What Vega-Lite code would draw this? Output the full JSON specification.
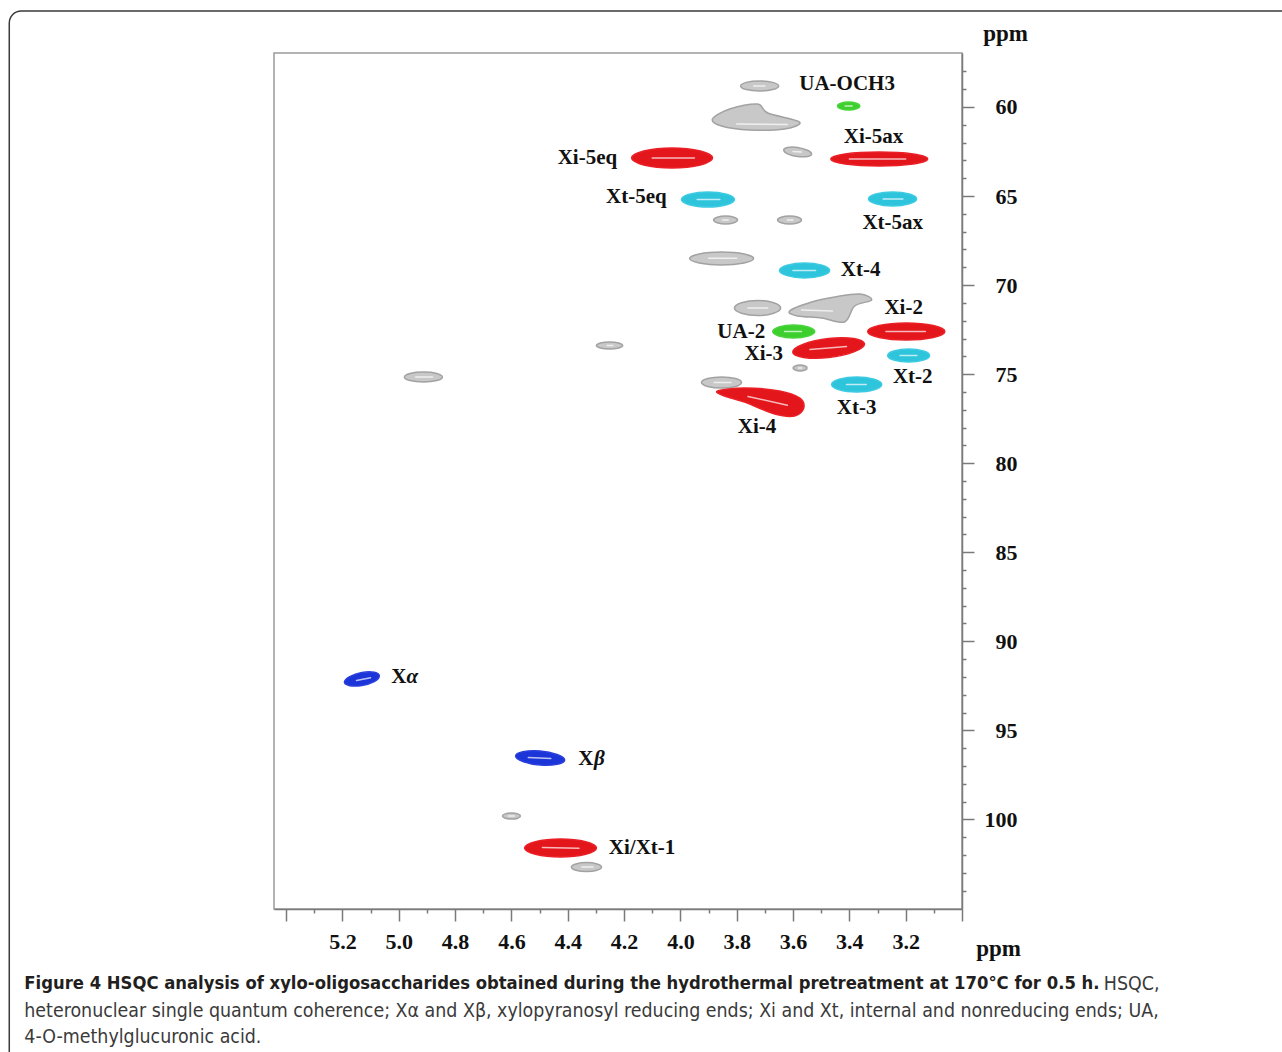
{
  "$schema": "https://vega.github.io/schema/vega-lite/v6.json",
  "width": 688,
  "height": 856,
  "autosize": {"type": "none"},
  "padding": {"left": 274, "top": 53, "right": 320, "bottom": 143},
  "background": "white",
  "config": {"view": {"stroke": "#9a9a9a", "strokeWidth": 1.5}},
  "datasets": {
    "peaks": [
      {"p":"g01","g":"gray","i":0,"h":3.651,"c":58.82},{"p":"g01","g":"gray","i":1,"h":3.672,"c":59.02},{"p":"g01","g":"gray","i":2,"h":3.719,"c":59.10},{"p":"g01","g":"gray","i":3,"h":3.766,"c":59.02},{"p":"g01","g":"gray","i":4,"h":3.786,"c":58.82},{"p":"g01","g":"gray","i":5,"h":3.766,"c":58.62},{"p":"g01","g":"gray","i":6,"h":3.719,"c":58.54},{"p":"g01","g":"gray","i":7,"h":3.672,"c":58.62},
      {"p":"g02","g":"gray","i":0,"h":3.886,"c":60.674},{"p":"g02","g":"gray","i":1,"h":3.825,"c":60.112},{"p":"g02","g":"gray","i":2,"h":3.726,"c":59.832},{"p":"g02","g":"gray","i":3,"h":3.690,"c":60.337},{"p":"g02","g":"gray","i":4,"h":3.577,"c":60.842},{"p":"g02","g":"gray","i":5,"h":3.630,"c":61.235},{"p":"g02","g":"gray","i":6,"h":3.754,"c":61.291},{"p":"g02","g":"gray","i":7,"h":3.854,"c":61.067},
      {"p":"g03","g":"gray","i":0,"h":3.534,"c":62.64},{"p":"g03","g":"gray","i":1,"h":3.549,"c":62.78},{"p":"g03","g":"gray","i":2,"h":3.584,"c":62.78},{"p":"g03","g":"gray","i":3,"h":3.619,"c":62.63},{"p":"g03","g":"gray","i":4,"h":3.633,"c":62.41},{"p":"g03","g":"gray","i":5,"h":3.619,"c":62.27},{"p":"g03","g":"gray","i":6,"h":3.584,"c":62.27},{"p":"g03","g":"gray","i":7,"h":3.549,"c":62.43},
      {"p":"g04","g":"gray","i":0,"h":3.797,"c":66.35},{"p":"g04","g":"gray","i":1,"h":3.810,"c":66.50},{"p":"g04","g":"gray","i":2,"h":3.839,"c":66.57},{"p":"g04","g":"gray","i":3,"h":3.869,"c":66.50},{"p":"g04","g":"gray","i":4,"h":3.882,"c":66.35},{"p":"g04","g":"gray","i":5,"h":3.869,"c":66.19},{"p":"g04","g":"gray","i":6,"h":3.839,"c":66.12},{"p":"g04","g":"gray","i":7,"h":3.810,"c":66.19},
      {"p":"g05","g":"gray","i":0,"h":3.570,"c":66.35},{"p":"g05","g":"gray","i":1,"h":3.582,"c":66.50},{"p":"g05","g":"gray","i":2,"h":3.612,"c":66.57},{"p":"g05","g":"gray","i":3,"h":3.642,"c":66.50},{"p":"g05","g":"gray","i":4,"h":3.655,"c":66.35},{"p":"g05","g":"gray","i":5,"h":3.642,"c":66.19},{"p":"g05","g":"gray","i":6,"h":3.612,"c":66.12},{"p":"g05","g":"gray","i":7,"h":3.582,"c":66.19},
      {"p":"g06","g":"gray","i":0,"h":3.740,"c":68.51},{"p":"g06","g":"gray","i":1,"h":3.774,"c":68.76},{"p":"g06","g":"gray","i":2,"h":3.854,"c":68.87},{"p":"g06","g":"gray","i":3,"h":3.933,"c":68.76},{"p":"g06","g":"gray","i":4,"h":3.967,"c":68.51},{"p":"g06","g":"gray","i":5,"h":3.933,"c":68.25},{"p":"g06","g":"gray","i":6,"h":3.854,"c":68.14},{"p":"g06","g":"gray","i":7,"h":3.774,"c":68.25},
      {"p":"g07","g":"gray","i":0,"h":3.644,"c":71.29},{"p":"g07","g":"gray","i":1,"h":3.669,"c":71.58},{"p":"g07","g":"gray","i":2,"h":3.726,"c":71.71},{"p":"g07","g":"gray","i":3,"h":3.783,"c":71.58},{"p":"g07","g":"gray","i":4,"h":3.808,"c":71.29},{"p":"g07","g":"gray","i":5,"h":3.783,"c":70.99},{"p":"g07","g":"gray","i":6,"h":3.726,"c":70.86},{"p":"g07","g":"gray","i":7,"h":3.669,"c":70.99},
      {"p":"g08","g":"gray","i":0,"h":3.612,"c":71.454},{"p":"g08","g":"gray","i":1,"h":3.534,"c":70.949},{"p":"g08","g":"gray","i":2,"h":3.452,"c":70.668},{"p":"g08","g":"gray","i":3,"h":3.363,"c":70.500},{"p":"g08","g":"gray","i":4,"h":3.321,"c":70.837},{"p":"g08","g":"gray","i":5,"h":3.381,"c":71.173},{"p":"g08","g":"gray","i":6,"h":3.417,"c":72.072},{"p":"g08","g":"gray","i":7,"h":3.498,"c":71.847},{"p":"g08","g":"gray","i":8,"h":3.584,"c":71.735},
      {"p":"g09","g":"gray","i":0,"h":3.550,"c":74.66},{"p":"g09","g":"gray","i":1,"h":3.557,"c":74.77},{"p":"g09","g":"gray","i":2,"h":3.575,"c":74.82},{"p":"g09","g":"gray","i":3,"h":3.592,"c":74.77},{"p":"g09","g":"gray","i":4,"h":3.600,"c":74.66},{"p":"g09","g":"gray","i":5,"h":3.592,"c":74.54},{"p":"g09","g":"gray","i":6,"h":3.575,"c":74.49},{"p":"g09","g":"gray","i":7,"h":3.557,"c":74.54},
      {"p":"g10","g":"gray","i":0,"h":3.783,"c":75.47},{"p":"g10","g":"gray","i":1,"h":3.804,"c":75.69},{"p":"g10","g":"gray","i":2,"h":3.854,"c":75.78},{"p":"g10","g":"gray","i":3,"h":3.903,"c":75.69},{"p":"g10","g":"gray","i":4,"h":3.925,"c":75.47},{"p":"g10","g":"gray","i":5,"h":3.903,"c":75.25},{"p":"g10","g":"gray","i":6,"h":3.854,"c":75.16},{"p":"g10","g":"gray","i":7,"h":3.804,"c":75.25},
      {"p":"g11","g":"gray","i":0,"h":4.205,"c":73.39},{"p":"g11","g":"gray","i":1,"h":4.219,"c":73.53},{"p":"g11","g":"gray","i":2,"h":4.252,"c":73.59},{"p":"g11","g":"gray","i":3,"h":4.284,"c":73.53},{"p":"g11","g":"gray","i":4,"h":4.298,"c":73.39},{"p":"g11","g":"gray","i":5,"h":4.284,"c":73.25},{"p":"g11","g":"gray","i":6,"h":4.252,"c":73.19},{"p":"g11","g":"gray","i":7,"h":4.219,"c":73.25},
      {"p":"g12","g":"gray","i":0,"h":4.845,"c":75.16},{"p":"g12","g":"gray","i":1,"h":4.865,"c":75.36},{"p":"g12","g":"gray","i":2,"h":4.912,"c":75.44},{"p":"g12","g":"gray","i":3,"h":4.960,"c":75.36},{"p":"g12","g":"gray","i":4,"h":4.980,"c":75.16},{"p":"g12","g":"gray","i":5,"h":4.960,"c":74.96},{"p":"g12","g":"gray","i":6,"h":4.912,"c":74.88},{"p":"g12","g":"gray","i":7,"h":4.865,"c":74.96},
      {"p":"g13","g":"gray","i":0,"h":4.568,"c":99.81},{"p":"g13","g":"gray","i":1,"h":4.577,"c":99.93},{"p":"g13","g":"gray","i":2,"h":4.600,"c":99.98},{"p":"g13","g":"gray","i":3,"h":4.622,"c":99.93},{"p":"g13","g":"gray","i":4,"h":4.632,"c":99.81},{"p":"g13","g":"gray","i":5,"h":4.622,"c":99.69},{"p":"g13","g":"gray","i":6,"h":4.600,"c":99.64},{"p":"g13","g":"gray","i":7,"h":4.577,"c":99.69},
      {"p":"g14","g":"gray","i":0,"h":4.280,"c":102.67},{"p":"g14","g":"gray","i":1,"h":4.296,"c":102.85},{"p":"g14","g":"gray","i":2,"h":4.333,"c":102.92},{"p":"g14","g":"gray","i":3,"h":4.371,"c":102.85},{"p":"g14","g":"gray","i":4,"h":4.387,"c":102.67},{"p":"g14","g":"gray","i":5,"h":4.371,"c":102.50},{"p":"g14","g":"gray","i":6,"h":4.333,"c":102.42},{"p":"g14","g":"gray","i":7,"h":4.296,"c":102.50},
      {"p":"u1","g":"green","i":0,"h":3.363,"c":59.94},{"p":"u1","g":"green","i":1,"h":3.375,"c":60.10},{"p":"u1","g":"green","i":2,"h":3.403,"c":60.17},{"p":"u1","g":"green","i":3,"h":3.430,"c":60.10},{"p":"u1","g":"green","i":4,"h":3.442,"c":59.94},{"p":"u1","g":"green","i":5,"h":3.430,"c":59.79},{"p":"u1","g":"green","i":6,"h":3.403,"c":59.72},{"p":"u1","g":"green","i":7,"h":3.375,"c":59.79},
      {"p":"u2","g":"green","i":0,"h":3.523,"c":72.61},{"p":"u2","g":"green","i":1,"h":3.546,"c":72.86},{"p":"u2","g":"green","i":2,"h":3.598,"c":72.97},{"p":"u2","g":"green","i":3,"h":3.650,"c":72.86},{"p":"u2","g":"green","i":4,"h":3.672,"c":72.61},{"p":"u2","g":"green","i":5,"h":3.650,"c":72.35},{"p":"u2","g":"green","i":6,"h":3.598,"c":72.24},{"p":"u2","g":"green","i":7,"h":3.546,"c":72.35},
      {"p":"r1","g":"red","i":0,"h":3.886,"c":62.86},{"p":"r1","g":"red","i":1,"h":3.929,"c":63.26},{"p":"r1","g":"red","i":2,"h":4.030,"c":63.43},{"p":"r1","g":"red","i":3,"h":4.130,"c":63.26},{"p":"r1","g":"red","i":4,"h":4.173,"c":62.86},{"p":"r1","g":"red","i":5,"h":4.130,"c":62.47},{"p":"r1","g":"red","i":6,"h":4.030,"c":62.30},{"p":"r1","g":"red","i":7,"h":3.929,"c":62.47},
      {"p":"r2","g":"red","i":0,"h":3.122,"c":62.92},{"p":"r2","g":"red","i":1,"h":3.174,"c":63.20},{"p":"r2","g":"red","i":2,"h":3.294,"c":63.31},{"p":"r2","g":"red","i":3,"h":3.415,"c":63.20},{"p":"r2","g":"red","i":4,"h":3.466,"c":62.92},{"p":"r2","g":"red","i":5,"h":3.415,"c":62.64},{"p":"r2","g":"red","i":6,"h":3.294,"c":62.53},{"p":"r2","g":"red","i":7,"h":3.174,"c":62.64},
      {"p":"r3","g":"red","i":0,"h":3.061,"c":72.61},{"p":"r3","g":"red","i":1,"h":3.102,"c":72.94},{"p":"r3","g":"red","i":2,"h":3.198,"c":73.08},{"p":"r3","g":"red","i":3,"h":3.294,"c":72.94},{"p":"r3","g":"red","i":4,"h":3.335,"c":72.61},{"p":"r3","g":"red","i":5,"h":3.294,"c":72.27},{"p":"r3","g":"red","i":6,"h":3.198,"c":72.13},{"p":"r3","g":"red","i":7,"h":3.102,"c":72.27},
      {"p":"r4","g":"red","i":0,"h":3.346,"c":73.31},{"p":"r4","g":"red","i":1,"h":3.384,"c":73.75},{"p":"r4","g":"red","i":2,"h":3.474,"c":74.07},{"p":"r4","g":"red","i":3,"h":3.563,"c":74.06},{"p":"r4","g":"red","i":4,"h":3.601,"c":73.76},{"p":"r4","g":"red","i":5,"h":3.563,"c":73.32},{"p":"r4","g":"red","i":6,"h":3.474,"c":73.00},{"p":"r4","g":"red","i":7,"h":3.384,"c":73.00},
      {"p":"r5","g":"red","i":0,"h":3.868,"c":75.946},{"p":"r5","g":"red","i":1,"h":3.772,"c":75.778},{"p":"r5","g":"red","i":2,"h":3.648,"c":75.946},{"p":"r5","g":"red","i":3,"h":3.577,"c":76.339},{"p":"r5","g":"red","i":4,"h":3.562,"c":76.901},{"p":"r5","g":"red","i":5,"h":3.594,"c":77.350},{"p":"r5","g":"red","i":6,"h":3.665,"c":77.237},{"p":"r5","g":"red","i":7,"h":3.772,"c":76.564},{"p":"r5","g":"red","i":8,"h":3.843,"c":76.227},
      {"p":"r6","g":"red","i":0,"h":4.298,"c":101.61},{"p":"r6","g":"red","i":1,"h":4.336,"c":101.96},{"p":"r6","g":"red","i":2,"h":4.426,"c":102.11},{"p":"r6","g":"red","i":3,"h":4.515,"c":101.96},{"p":"r6","g":"red","i":4,"h":4.553,"c":101.61},{"p":"r6","g":"red","i":5,"h":4.515,"c":101.25},{"p":"r6","g":"red","i":6,"h":4.426,"c":101.10},{"p":"r6","g":"red","i":7,"h":4.336,"c":101.25},
      {"p":"c1","g":"cyan","i":0,"h":3.808,"c":65.19},{"p":"c1","g":"cyan","i":1,"h":3.836,"c":65.49},{"p":"c1","g":"cyan","i":2,"h":3.902,"c":65.62},{"p":"c1","g":"cyan","i":3,"h":3.968,"c":65.49},{"p":"c1","g":"cyan","i":4,"h":3.996,"c":65.19},{"p":"c1","g":"cyan","i":5,"h":3.968,"c":64.90},{"p":"c1","g":"cyan","i":6,"h":3.902,"c":64.77},{"p":"c1","g":"cyan","i":7,"h":3.836,"c":64.90},
      {"p":"c2","g":"cyan","i":0,"h":3.161,"c":65.17},{"p":"c2","g":"cyan","i":1,"h":3.187,"c":65.44},{"p":"c2","g":"cyan","i":2,"h":3.246,"c":65.56},{"p":"c2","g":"cyan","i":3,"h":3.306,"c":65.44},{"p":"c2","g":"cyan","i":4,"h":3.332,"c":65.17},{"p":"c2","g":"cyan","i":5,"h":3.306,"c":64.89},{"p":"c2","g":"cyan","i":6,"h":3.246,"c":64.77},{"p":"c2","g":"cyan","i":7,"h":3.187,"c":64.89},
      {"p":"c3","g":"cyan","i":0,"h":3.470,"c":69.18},{"p":"c3","g":"cyan","i":1,"h":3.497,"c":69.47},{"p":"c3","g":"cyan","i":2,"h":3.559,"c":69.60},{"p":"c3","g":"cyan","i":3,"h":3.621,"c":69.47},{"p":"c3","g":"cyan","i":4,"h":3.648,"c":69.18},{"p":"c3","g":"cyan","i":5,"h":3.621,"c":68.89},{"p":"c3","g":"cyan","i":6,"h":3.559,"c":68.76},{"p":"c3","g":"cyan","i":7,"h":3.497,"c":68.89},
      {"p":"c4","g":"cyan","i":0,"h":3.115,"c":73.95},{"p":"c4","g":"cyan","i":1,"h":3.137,"c":74.21},{"p":"c4","g":"cyan","i":2,"h":3.189,"c":74.32},{"p":"c4","g":"cyan","i":3,"h":3.242,"c":74.21},{"p":"c4","g":"cyan","i":4,"h":3.264,"c":73.95},{"p":"c4","g":"cyan","i":5,"h":3.242,"c":73.70},{"p":"c4","g":"cyan","i":6,"h":3.189,"c":73.59},{"p":"c4","g":"cyan","i":7,"h":3.137,"c":73.70},
      {"p":"c5","g":"cyan","i":0,"h":3.285,"c":75.58},{"p":"c5","g":"cyan","i":1,"h":3.312,"c":75.88},{"p":"c5","g":"cyan","i":2,"h":3.374,"c":76.00},{"p":"c5","g":"cyan","i":3,"h":3.436,"c":75.88},{"p":"c5","g":"cyan","i":4,"h":3.463,"c":75.58},{"p":"c5","g":"cyan","i":5,"h":3.436,"c":75.29},{"p":"c5","g":"cyan","i":6,"h":3.374,"c":75.16},{"p":"c5","g":"cyan","i":7,"h":3.312,"c":75.29},
      {"p":"b1","g":"blue","i":0,"h":5.069,"c":91.95},{"p":"b1","g":"blue","i":1,"h":5.087,"c":92.26},{"p":"b1","g":"blue","i":2,"h":5.131,"c":92.48},{"p":"b1","g":"blue","i":3,"h":5.174,"c":92.49},{"p":"b1","g":"blue","i":4,"h":5.193,"c":92.29},{"p":"b1","g":"blue","i":5,"h":5.174,"c":91.98},{"p":"b1","g":"blue","i":6,"h":5.131,"c":91.75},{"p":"b1","g":"blue","i":7,"h":5.087,"c":91.74},
      {"p":"b2","g":"blue","i":0,"h":4.411,"c":96.66},{"p":"b2","g":"blue","i":1,"h":4.438,"c":96.91},{"p":"b2","g":"blue","i":2,"h":4.498,"c":96.95},{"p":"b2","g":"blue","i":3,"h":4.559,"c":96.75},{"p":"b2","g":"blue","i":4,"h":4.585,"c":96.44},{"p":"b2","g":"blue","i":5,"h":4.559,"c":96.20},{"p":"b2","g":"blue","i":6,"h":4.498,"c":96.16},{"p":"b2","g":"blue","i":7,"h":4.438,"c":96.36}
    ],
    "cores": [
      {"p":"r1","h":4.10,"h2":3.95,"c":62.86,"c2":62.86},
      {"p":"r2","h":3.40,"h2":3.20,"c":62.92,"c2":62.92},
      {"p":"r3","h":3.27,"h2":3.13,"c":72.61,"c2":72.61},
      {"p":"r4","h":3.54,"h2":3.41,"c":73.62,"c2":73.45},
      {"p":"r5","h":3.76,"h2":3.62,"c":76.25,"c2":76.75},
      {"p":"r6","h":4.49,"h2":4.36,"c":101.58,"c2":101.62},
      {"p":"c1","h":3.94,"h2":3.86,"c":65.19,"c2":65.19},
      {"p":"c2","h":3.28,"h2":3.21,"c":65.17,"c2":65.17},
      {"p":"c3","h":3.60,"h2":3.52,"c":69.18,"c2":69.18},
      {"p":"c4","h":3.22,"h2":3.16,"c":73.95,"c2":73.95},
      {"p":"c5","h":3.41,"h2":3.34,"c":75.58,"c2":75.58},
      {"p":"b1","h":5.15,"h2":5.10,"c":92.20,"c2":92.05},
      {"p":"b2","h":4.54,"h2":4.46,"c":96.52,"c2":96.58},
      {"p":"u1","h":3.415,"h2":3.39,"c":59.94,"c2":59.94},
      {"p":"u2","h":3.63,"h2":3.57,"c":72.60,"c2":72.60},
      {"p":"g01","h":3.74,"h2":3.70,"c":58.82,"c2":58.82},
      {"p":"g02","h":3.80,"h2":3.62,"c":60.95,"c2":60.98},
      {"p":"g03","h":3.60,"h2":3.57,"c":62.50,"c2":62.53},
      {"p":"g04","h":3.85,"h2":3.83,"c":66.35,"c2":66.35},
      {"p":"g05","h":3.62,"h2":3.60,"c":66.35,"c2":66.35},
      {"p":"g06","h":3.90,"h2":3.80,"c":68.50,"c2":68.50},
      {"p":"g07","h":3.76,"h2":3.69,"c":71.29,"c2":71.29},
      {"p":"g08","h":3.57,"h2":3.46,"c":71.40,"c2":71.45},
      {"p":"g09","h":3.58,"h2":3.57,"c":74.66,"c2":74.66},
      {"p":"g10","h":3.88,"h2":3.82,"c":75.47,"c2":75.47},
      {"p":"g11","h":4.26,"h2":4.24,"c":73.39,"c2":73.39},
      {"p":"g12","h":4.94,"h2":4.88,"c":75.16,"c2":75.16},
      {"p":"g13","h":4.61,"h2":4.59,"c":99.81,"c2":99.81},
      {"p":"g14","h":4.35,"h2":4.31,"c":102.67,"c2":102.67}
    ],
    "labels": [
      {"label":"UA-OCH3","h":3.408,"c":58.709},
      {"label":"Xi-5ax","h":3.314,"c":61.684},
      {"label":"Xi-5eq","h":4.330,"c":62.86},
      {"label":"Xt-5eq","h":4.156,"c":65.053},
      {"label":"Xt-5ax","h":3.246,"c":66.513},
      {"label":"Xt-4","h":3.360,"c":69.152},
      {"label":"Xi-2","h":3.207,"c":71.286},
      {"label":"UA-2","h":3.784,"c":72.633},
      {"label":"Xi-3","h":3.704,"c":73.869},
      {"label":"Xt-2","h":3.175,"c":75.16},
      {"label":"Xt-3","h":3.374,"c":76.901},
      {"label":"Xi-4","h":3.7275,"c":77.967},
      {"label":"Xi/Xt-1","h":4.136,"c":101.606}
    ],
    "greek": [
      {"label":"X","h":5.0,"c":92.004},
      {"label":"X","h":4.336,"c":96.608}
    ],
    "greekItalic": [
      {"label":"α","h":4.952,"c":92.004},
      {"label":"β","h":4.288,"c":96.608}
    ]
  },
  "layer": [
    {
      "data": {"name": "peaks"},
      "mark": {"type": "line", "interpolate": "cardinal-closed", "strokeWidth": 1.5},
      "encoding": {
        "x": {
          "field": "h", "type": "quantitative",
          "scale": {"domain": [3.0, 5.443], "reverse": true, "nice": false, "zero": false},
          "axis": {
            "orient": "bottom",
            "values": [3.0,3.1,3.2,3.3,3.4,3.5,3.6,3.7,3.8,3.9,4.0,4.1,4.2,4.3,4.4,4.5,4.6,4.7,4.8,4.9,5.0,5.1,5.2,5.3,5.4],
            "tickCount": 500,
            "labelExpr": "(round(datum.value*10)%2==0 && datum.value>3.15 && datum.value<5.25) ? format(datum.value,'.1f') : ''",
            "tickSize": {"condition": {"test": "round(datum.value*10)%2==0", "value": 12}, "value": 4},
            "grid": false,
            "domainColor": "#7a7a7a", "domainWidth": 1.5,
            "tickColor": "#7a7a7a", "tickWidth": 1.5,
            "labelFont": "Liberation Serif", "labelFontWeight": "bold", "labelFontSize": 22, "labelColor": "#111111",
            "labelBaseline": "top", "labelPadding": 10, "labelOverlap": false, "labelFlush": false,
            "title": "ppm", "titleFont": "Liberation Serif", "titleFontWeight": "bold", "titleFontSize": 23, "titleColor": "#111111",
            "titleX": 724, "titleY": 46, "titleAlign": "center", "titleBaseline": "alphabetic"
          }
        },
        "y": {
          "field": "c", "type": "quantitative",
          "scale": {"domain": [56.97, 105.03], "reverse": true, "nice": false, "zero": false},
          "axis": {
            "orient": "right",
            "values": [58,59,60,61,62,63,64,65,66,67,68,69,70,71,72,73,74,75,76,77,78,79,80,81,82,83,84,85,86,87,88,89,90,91,92,93,94,95,96,97,98,99,100,101,102,103,104],
            "tickCount": 500,
            "labelExpr": "datum.value % 5 == 0 ? format(datum.value,'d') : ''",
            "tickSize": {"condition": {"test": "datum.value % 5 == 0", "value": 12}, "value": 4},
            "grid": false,
            "domainColor": "#7a7a7a", "domainWidth": 1.5,
            "tickColor": "#7a7a7a", "tickWidth": 1.5,
            "labelFont": "Liberation Serif", "labelFontWeight": "bold", "labelFontSize": 22, "labelColor": "#111111",
            "labelAlign": "right", "labelBaseline": "middle", "labelPadding": 43, "labelOverlap": false, "labelFlush": false,
            "title": "ppm", "titleFont": "Liberation Serif", "titleFontWeight": "bold", "titleFontSize": 23, "titleColor": "#111111",
            "titleAngle": 0, "titleX": 43, "titleY": -13, "titleAlign": "center", "titleBaseline": "alphabetic"
          }
        },
        "detail": {"field": "p"},
        "order": {"field": "i", "type": "quantitative"},
        "fill": {"field": "g", "type": "nominal", "legend": null,
          "scale": {"domain": ["gray","red","cyan","blue","green"], "range": ["#c8c8c8","#e3161c","#2ec4dc","#1c35d8","#3ccf2e"]}},
        "stroke": {"field": "g", "type": "nominal", "legend": null,
          "scale": {"domain": ["gray","red","cyan","blue","green"], "range": ["#a2a2a2","#ea2026","#3ccbe2","#2a40dc","#48d43a"]}}
      }
    },
    {
      "data": {"values": [{}]},
      "mark": {"type": "rect", "filled": false, "stroke": "#3a3a3a", "strokeWidth": 1.5, "cornerRadius": 12, "clip": false},
      "encoding": {
        "x": {"datum": 6.383, "type": "quantitative"},
        "x2": {"datum": 1.80},
        "y": {"datum": 54.61, "type": "quantitative"},
        "y2": {"datum": 114.07}
      }
    },
    {
      "data": {"name": "cores"},
      "mark": {"type": "rule", "color": "white", "strokeWidth": 1.5, "opacity": 0.7, "strokeCap": "round"},
      "encoding": {
        "x": {"field": "h", "type": "quantitative"},
        "x2": {"field": "h2"},
        "y": {"field": "c", "type": "quantitative"},
        "y2": {"field": "c2"}
      }
    },
    {
      "data": {"name": "labels"},
      "mark": {"type": "text", "font": "Liberation Serif", "fontWeight": "bold", "fontSize": 21, "color": "#111111", "align": "center", "baseline": "middle"},
      "encoding": {
        "x": {"field": "h", "type": "quantitative"},
        "y": {"field": "c", "type": "quantitative"},
        "text": {"field": "label"}
      }
    },
    {
      "data": {"name": "greek"},
      "mark": {"type": "text", "font": "Liberation Serif", "fontWeight": "bold", "fontSize": 21, "color": "#111111", "align": "center", "baseline": "middle"},
      "encoding": {
        "x": {"field": "h", "type": "quantitative"},
        "y": {"field": "c", "type": "quantitative"},
        "text": {"field": "label"}
      }
    },
    {
      "data": {"name": "greekItalic"},
      "mark": {"type": "text", "font": "Liberation Serif", "fontWeight": "bold", "fontStyle": "italic", "fontSize": 21, "color": "#111111", "align": "center", "baseline": "middle"},
      "encoding": {
        "x": {"field": "h", "type": "quantitative"},
        "y": {"field": "c", "type": "quantitative"},
        "text": {"field": "label"}
      }
    },
    {
      "data": {"values": [{}]},
      "mark": {"type": "text", "text": "Figure 4 HSQC analysis of xylo-oligosaccharides obtained during the hydrothermal pretreatment at 170°C for 0.5 h.", "font": "DejaVu Sans Condensed", "fontWeight": "bold", "fontSize": 18.3, "color": "#231f20", "align": "left", "baseline": "middle", "clip": false},
      "encoding": {"x": {"datum": 6.3297, "type": "quantitative"}, "y": {"datum": 109.241, "type": "quantitative"}}
    },
    {
      "data": {"values": [{}]},
      "mark": {"type": "text", "text": "HSQC,", "font": "DejaVu Sans Condensed", "fontSize": 19.4, "color": "#3a3a3a", "align": "left", "baseline": "middle", "clip": false},
      "encoding": {"x": {"datum": 2.4966, "type": "quantitative"}, "y": {"datum": 109.241, "type": "quantitative"}}
    },
    {
      "data": {"values": [{}]},
      "mark": {"type": "text", "text": "heteronuclear single quantum coherence; Xα and Xβ, xylopyranosyl reducing ends; Xi and Xt, internal and nonreducing ends; UA,", "font": "DejaVu Sans Condensed", "fontSize": 19.4, "color": "#3a3a3a", "align": "left", "baseline": "middle", "clip": false},
      "encoding": {"x": {"datum": 6.3297, "type": "quantitative"}, "y": {"datum": 110.756, "type": "quantitative"}}
    },
    {
      "data": {"values": [{}]},
      "mark": {"type": "text", "text": "4-O-methylglucuronic acid.", "font": "DejaVu Sans Condensed", "fontSize": 19.4, "color": "#3a3a3a", "align": "left", "baseline": "middle", "clip": false},
      "encoding": {"x": {"datum": 6.3297, "type": "quantitative"}, "y": {"datum": 112.218, "type": "quantitative"}}
    }
  ]
}
